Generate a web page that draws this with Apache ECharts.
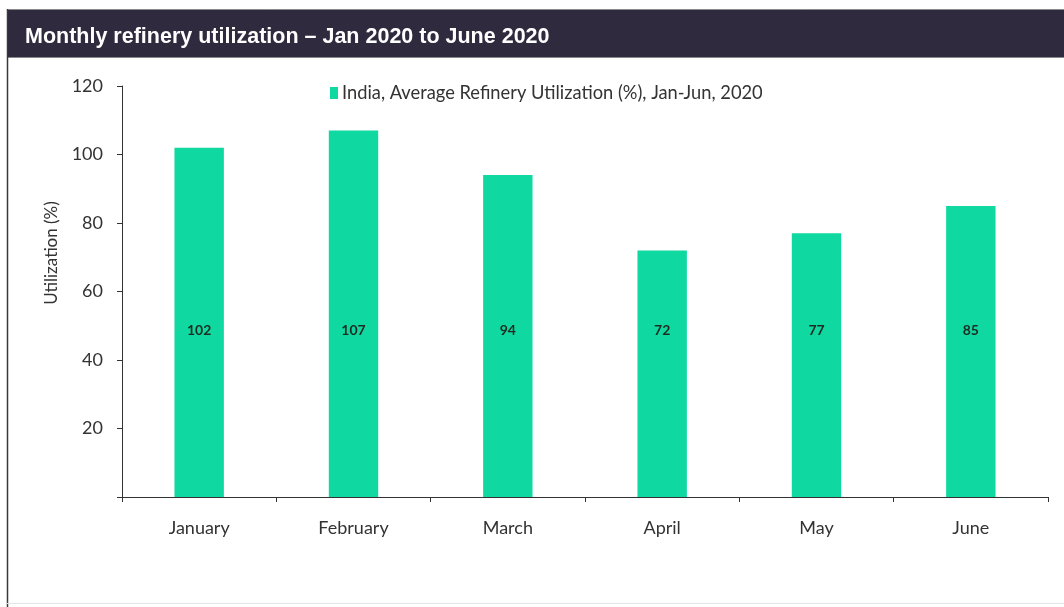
<!DOCTYPE html>
<html>
<head>
<meta charset="utf-8">
<script src="https://cdn.jsdelivr.net/npm/echarts@6/dist/echarts.min.js"></script>
<style>
  html, body { margin: 0; padding: 0; background: #ffffff; }
  #chart { width: 1064px; height: 607px; }
</style>
</head>
<body>
<div id="chart"></div>
<script>
// Monthly refinery utilization, India, Jan–Jun 2020
const months = ['January', 'February', 'March', 'April', 'May', 'June'];
const utilization = [102, 107, 94, 72, 77, 85];
const yTicks = [0, 20, 40, 60, 80, 100, 120];
const seriesName = 'India, Average Refinery Utilization (%), Jan-Jun, 2020';
const chartTitle = 'Monthly refinery utilization \u2013 Jan 2020 to June 2020';
const yAxisTitle = 'Utilization (%)';

const bodyFont = 'Lato, "Open Sans", sans-serif';

const chart = echarts.init(document.getElementById('chart'));

const option = {
  backgroundColor: '#ffffff',
  animation: false,
  graphic: [
    // header band
    { type: 'rect', left: 7, top: 9, shape: { width: 1057, height: 48 },
      style: { fill: '#2f2a3e', stroke: '#8a8a8a', lineWidth: 1 } },
    // left frame line
    { type: 'line', shape: { x1: 7.5, y1: 9, x2: 7.5, y2: 607 },
      style: { stroke: '#3a3a3a', lineWidth: 1.5 } },
    // bottom frame line
    { type: 'line', shape: { x1: 7, y1: 603.5, x2: 1064, y2: 603.5 },
      style: { stroke: '#e4e4e4', lineWidth: 1 } },
    // value-axis title, rotated
    { type: 'text', x: 52, y: 253, rotation: Math.PI / 2,
      style: { text: yAxisTitle, fill: '#333333', font: '17px ' + bodyFont,
               align: 'center', verticalAlign: 'middle' } }
  ],
  title: {
    text: chartTitle,
    left: 20,
    top: 21,
    textStyle: {
      color: '#ffffff',
      fontFamily: '"Liberation Sans Narrow", "Arial Narrow", "Liberation Sans", sans-serif',
      fontWeight: 'bold',
      fontSize: 21.5
    }
  },
  legend: {
    data: [seriesName],
    left: 325,
    top: 79,
    icon: 'rect',
    itemWidth: 8,
    itemHeight: 12,
    itemGap: 4,
    textStyle: {
      color: '#333333',
      fontFamily: bodyFont,
      fontSize: 18.3,
      padding: [0, 0, 0, -1]
    }
  },
  grid: {
    left: 122,
    right: 16,
    top: 86,
    bottom: 110,
    containLabel: false
  },
  xAxis: {
    type: 'category',
    data: months,
    boundaryGap: true,
    axisLine: { lineStyle: { color: '#333333', width: 1 } },
    axisTick: { show: true, length: 5, lineStyle: { color: '#333333' } },
    axisLabel: {
      color: '#333333',
      fontFamily: bodyFont,
      fontSize: 18,
      margin: 22
    }
  },
  yAxis: {
    type: 'value',
    min: yTicks[0],
    max: yTicks[yTicks.length - 1],
    interval: 20,
    axisLine: { show: true, lineStyle: { color: '#333333', width: 1 } },
    axisTick: { show: true, length: 5, lineStyle: { color: '#333333' } },
    splitLine: { show: false },
    axisLabel: {
      color: '#333333',
      fontFamily: bodyFont,
      fontSize: 18,
      margin: 19,
      formatter: function (v) { return v === 0 ? '' : String(v); }
    }
  },
  series: [{
    name: seriesName,
    type: 'bar',
    data: utilization,
    barWidth: '32%',
    itemStyle: { color: '#0fd8a0' },
    label: {
      show: true,
      position: 'insideBottom',
      distance: 160,
      color: '#1d2b22',
      fontWeight: 'bold',
      fontFamily: bodyFont,
      fontSize: 14
    }
  }]
};

chart.setOption(option);
</script>
</body>
</html>
